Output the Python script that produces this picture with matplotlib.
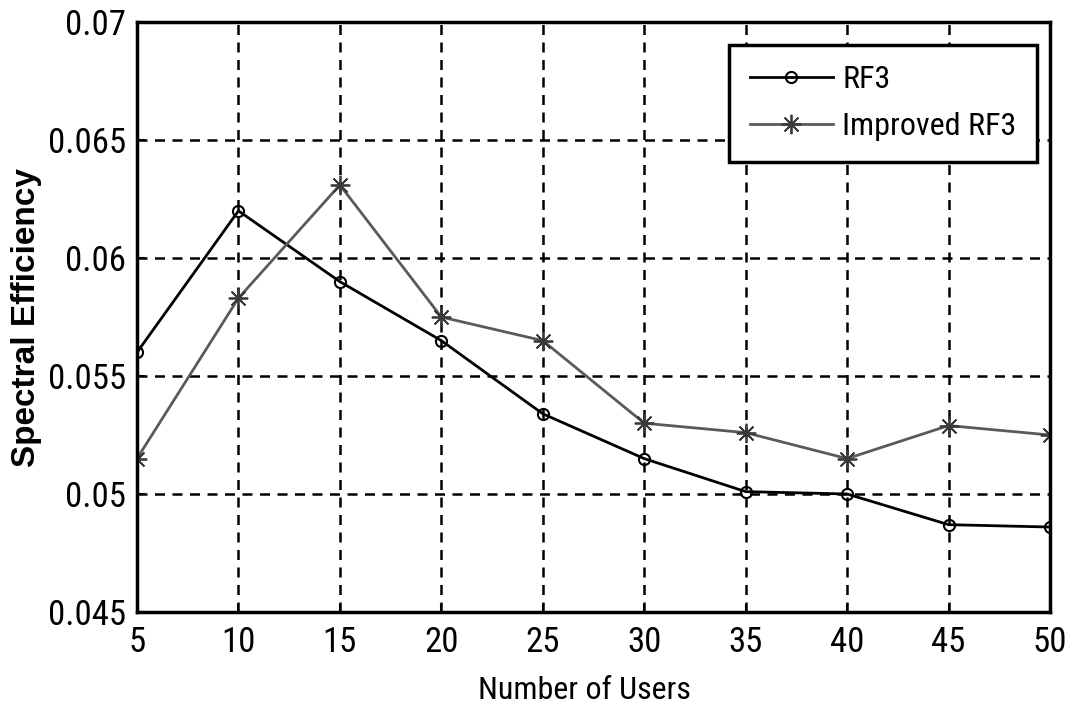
import matplotlib
matplotlib.use("Agg")
import matplotlib.pyplot as plt

# ------------------------------------------------------------
# dados
# ------------------------------------------------------------
usuarios = [5, 10, 15, 20, 25, 30, 35, 40, 45, 50]
rf3 = [0.0560, 0.0620, 0.0590, 0.0565, 0.0534, 0.0515, 0.0501, 0.0500, 0.0487, 0.0486]
rf3_melhorado = [0.0515, 0.0583, 0.0631, 0.0575, 0.0565, 0.0530, 0.0526, 0.0515, 0.0529, 0.0525]
yticks = [0.045, 0.05, 0.055, 0.06, 0.065, 0.07]
ytick_labels = ["0.045", "0.05", "0.055", "0.06", "0.065", "0.07"]

narrow = ["Roboto Condensed", "DejaVu Sans"]

fig = plt.figure(figsize=(10.66, 7.13), dpi=100)
ax = fig.add_axes([0.1285, 0.1417, 0.8565, 0.8273])

ax.plot(usuarios, rf3, color="black", lw=2, marker="o", ms=8,
        mfc="none", mec="black", mew=1.5, label="RF3")
ax.plot(usuarios, rf3_melhorado, color="#5a5a5a", lw=2, marker=(8, 2, 0), ms=14,
        mec="#3a3a3a", mew=1.3, label="Improved RF3")

ax.set_xlim(5, 50)
ax.set_ylim(0.045, 0.07)
ax.set_xticks(usuarios)
ax.set_yticks(yticks)
ax.set_yticklabels(ytick_labels)
ax.grid(True, color="black", linestyle=(0, (4, 3)), linewidth=1.8)
ax.tick_params(direction="in", length=6, width=1.5, labelsize=25)
ax.tick_params(axis="y", pad=8)
ax.tick_params(axis="x", pad=10)
for lab in ax.get_xticklabels() + ax.get_yticklabels():
    lab.set_family(narrow)
for sp in ax.spines.values():
    sp.set_linewidth(2.5)

ax.set_xlabel("Number of Users", family=narrow, fontsize=23)
ax.xaxis.set_label_coords(0.49, -0.108)
ax.set_ylabel("Spectral Efficiency", family=["Liberation Sans", "DejaVu Sans"],
              fontsize=24, fontweight="bold")
ax.yaxis.set_label_coords(-0.104, 0.5)

leg = ax.legend(loc="upper right", bbox_to_anchor=(0.986, 0.962),
                prop={"family": narrow, "size": 23}, fancybox=False,
                framealpha=1, edgecolor="black", handlelength=2.6,
                borderpad=0.65, labelspacing=0.55, handletextpad=0.3,
                borderaxespad=0)
leg.get_frame().set_linewidth(2.5)

fig.savefig("out.png", dpi=100)
